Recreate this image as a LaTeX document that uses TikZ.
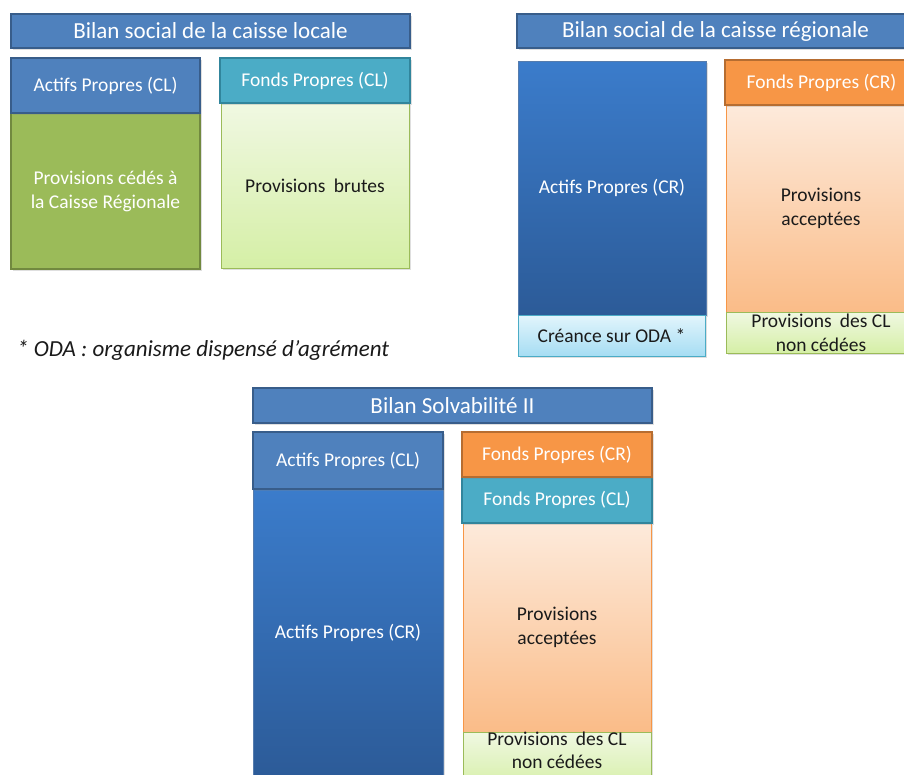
\documentclass[tikz,border=0pt]{standalone}
\usepackage{fontspec}
\setmainfont{Carlito}
\usetikzlibrary{shadows}
\definecolor{hdrblue}{HTML}{4F81BD}
\definecolor{hdrblueD}{HTML}{385D8A}
\definecolor{deepblueT}{HTML}{3B7CCB}
\definecolor{deepblueB}{HTML}{2C5B98}
\definecolor{olive}{HTML}{9BBB59}
\definecolor{oliveD}{HTML}{71893F}
\definecolor{aqua}{HTML}{4BACC6}
\definecolor{aquaD}{HTML}{31859C}
\definecolor{orng}{HTML}{F79646}
\definecolor{orngD}{HTML}{B66D31}
\definecolor{lgreenT}{HTML}{F0F8E2}
\definecolor{lgreenB}{HTML}{D5EFA6}
\definecolor{lorngT}{HTML}{FDEADB}
\definecolor{lorngB}{HTML}{FABC88}
\definecolor{lblueT}{HTML}{E2F5FC}
\definecolor{lblueB}{HTML}{A6DDF3}
\definecolor{txtdark}{HTML}{1A1A1A}
\tikzset{
  base/.style={rectangle, inner sep=0pt, outer sep=0pt, align=center, font=\fontsize{19.5}{24}\selectfont,
    drop shadow={shadow xshift=1.5pt, shadow yshift=-2pt, opacity=0.25}},
  titlebox/.style={base, fill=hdrblue, draw=hdrblueD, line width=2.2pt, text=white, font=\fontsize{23}{27}\selectfont},
  bluebox/.style={base, fill=hdrblue, draw=hdrblueD, line width=2.2pt, text=white},
  deepbox/.style={base, top color=deepblueT, bottom color=deepblueB, draw=deepblueB!80!white, line width=0.6pt, text=white},
  olivebox/.style={base, fill=olive, draw=oliveD, line width=2.2pt, text=white},
  aquabox/.style={base, fill=aqua, draw=aquaD, line width=2.2pt, text=white},
  orngbox/.style={base, fill=orng, draw=orngD, line width=2.2pt, text=white},
  lgreenbox/.style={base, top color=lgreenT, bottom color=lgreenB, draw=olive, line width=1pt, text=txtdark},
  lorngbox/.style={base, top color=lorngT, bottom color=lorngB, draw=orng, line width=1pt, text=txtdark},
  lbluebox/.style={base, top color=lblueT, bottom color=lblueB, draw=aqua, line width=1pt, text=txtdark},
  note/.style={inner sep=0pt, anchor=west, text=txtdark, font=\fontsize{23}{27}\selectfont\itshape}
}
\newcommand\bx[7]{\node[#6, anchor=north west, minimum width={#4pt-#2pt}, minimum height={#5pt-#3pt}] (#1) at (#2,#3) {#7};}
\begin{document}
\begin{tikzpicture}[x=1pt,y=-1pt]
\useasboundingbox (0,0) rectangle (904,774);
\fill[white] (0,0) rectangle (904,774);
\begin{scope}
\clip (0,0) rectangle (904,774);
% top-left
\bx{tl}{11}{14}{410}{48}{titlebox}{Bilan social de la caisse locale}
\bx{tlprov}{11}{113}{200}{269}{olivebox}{Provisions cédés à\\la Caisse Régionale}
\bx{tlap}{11}{58}{200}{113}{bluebox}{Actifs Propres (CL)}
\bx{tlbrut}{221}{103}{409}{268}{lgreenbox}{Provisions\hspace{0.2em} brutes}
\bx{tlfp}{220}{58}{410}{103}{aquabox}{Fonds Propres (CL)}
% top-right
\bx{tr}{517}{14}{914}{48}{titlebox}{Bilan social de la caisse régionale}
\bx{trap}{518}{61}{706}{315}{deepbox}{Actifs Propres (CR)}
\bx{trcre}{518}{315}{705}{356}{lbluebox}{Créance sur ODA *}
\bx{trpa}{726}{105}{916}{312}{lorngbox}{Provisions\\acceptées}
\bx{trpcl}{726}{312}{916}{353}{lgreenbox}{Provisions\hspace{0.2em} des CL\\non cédées}
\bx{trfp}{725}{60}{918}{105}{orngbox}{Fonds Propres (CR)}
% footnote
\node[note] (fn) at (17,350) {* ODA : organisme dispensé d’agrément};
% bottom
\bx{bt}{253}{388}{652}{423}{titlebox}{Bilan Solvabilité II}
\bx{bcr}{253}{489}{443}{776}{deepbox}{Actifs Propres (CR)}
\bx{bcl}{253}{432}{443}{489}{bluebox}{Actifs Propres (CL)}
\bx{bpa}{463}{523}{651}{732}{lorngbox}{Provisions\\acceptées}
\bx{bpcl}{463}{732}{651}{776}{lgreenbox}{Provisions\hspace{0.2em} des CL\\[-1pt]non cédées\\[-3pt]\mbox{}}
\bx{bfcl}{462}{477}{652}{523}{aquabox}{Fonds Propres (CL)}
\bx{bfcr}{462}{432}{652}{477}{orngbox}{Fonds Propres (CR)}
\end{scope}
\end{tikzpicture}
\end{document}
